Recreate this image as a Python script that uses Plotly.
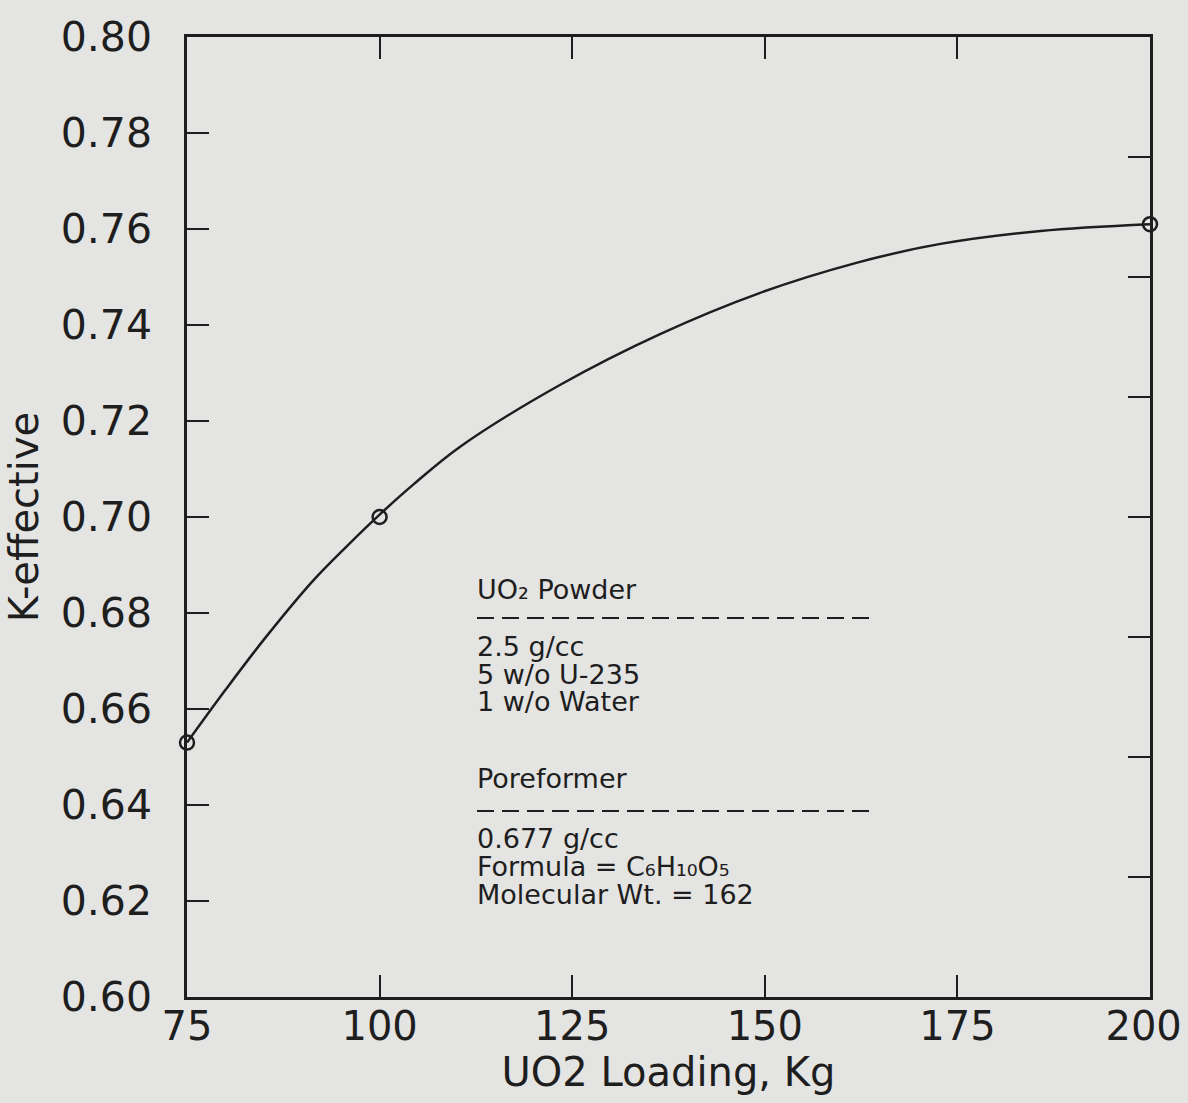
import plotly.graph_objects as go

# ---- data ----
loading_pts = [75, 100, 200]
keff_pts = [0.653, 0.700, 0.761]

curve_x = [75, 80.0, 85.0, 91.4, 95.8, 100, 104.4, 110.5, 123.4, 136.4, 149.4, 162.0, 172.8, 185.8, 200]
curve_y = [0.653, 0.6640, 0.6745, 0.6868, 0.6940, 0.7005, 0.7068, 0.7147, 0.7275, 0.7381, 0.7467,
           0.7530, 0.7569, 0.7596, 0.761]

x_ticks = [75, 100, 125, 150, 175, 200]
x_tick_text = ["75", "100", "125", "150", "175", "200\u00a0"]
y_ticks = [0.60, 0.62, 0.64, 0.66, 0.68, 0.70, 0.72, 0.74, 0.76, 0.78, 0.80]
y_tick_text = ["%.2f" % v for v in y_ticks]
right_ticks = [0.625, 0.650, 0.675, 0.700, 0.725, 0.750, 0.775]

notes_1 = ["2.5 g/cc", "5 w/o U-235", "1 w/o Water"]
notes_2 = ["0.677 g/cc", "Formula = C₆H₁₀O₅", "Molecular Wt. = 162"]

INK = "#1e1e1e"
BG = "#e4e4e2"
FONT = "DejaVu Sans"

fig = go.Figure()
fig.add_trace(go.Scatter(x=curve_x, y=curve_y, mode="lines",
                         line=dict(color=INK, width=2.5, shape="spline", smoothing=1.0),
                         hoverinfo="skip", showlegend=False))
fig.add_trace(go.Scatter(x=loading_pts, y=keff_pts, mode="markers",
                         marker=dict(symbol="circle-open", size=14, color=INK, line=dict(width=2.5)),
                         cliponaxis=False, showlegend=False))
# helper trace for the right-hand axis
fig.add_trace(go.Scatter(x=loading_pts, y=keff_pts, mode="markers", yaxis="y2",
                         marker=dict(opacity=0), hoverinfo="skip", showlegend=False))

W, H = 1188, 1103
# target plot box in page pixels
PL, PR, PT, PB = 187, 1150, 37, 997
L, T = PL, PT
R = W - PR
B = H - PB
pw, ph = W - L - R, H - T - B

def px(x):
    return (x - PL) / pw

def py(y):
    return (PB - y) / ph

ann = []
def note(text, x, y):
    ann.append(dict(text=text, x=px(x), y=py(y), xref="paper", yref="paper",
                    xanchor="left", yanchor="middle", showarrow=False,
                    font=dict(family=FONT, size=27, color=INK)))

note("UO₂ Powder", 475, 589)
for i, t in enumerate(notes_1):
    note(t, 475, 646 + 28 * i)
note("Poreformer", 475, 778)
for i, t in enumerate(notes_2):
    note(t, 475, 838 + 28 * i)

shapes = [
    dict(type="line", xref="paper", yref="paper", x0=px(477), x1=px(875), y0=py(618), y1=py(618),
         line=dict(color=INK, width=2, dash="17px,8px")),
    dict(type="line", xref="paper", yref="paper", x0=px(477), x1=px(875), y0=py(811), y1=py(811),
         line=dict(color=INK, width=2, dash="17px,8px")),
]

fig.update_layout(
    width=W, height=H,
    margin=dict(l=L, r=R, t=T, b=B, autoexpand=False),
    paper_bgcolor=BG, plot_bgcolor=BG,
    font=dict(family=FONT, color=INK),
    annotations=ann, shapes=shapes,
    xaxis=dict(range=[75, 200], tickvals=x_ticks, ticktext=x_tick_text,
               automargin=False,
               ticks="inside", ticklen=22, tickwidth=2, tickcolor=INK,
               showline=True, linecolor=INK, linewidth=2.5, mirror="ticks",
               showgrid=False, zeroline=False,
               ticklabelstandoff=-8, ticklabeloverflow="allow",
               tickfont=dict(size=40, family=FONT, color=INK),
               title=dict(text="UO2 Loading, Kg", font=dict(size=40, family=FONT, color=INK), standoff=8)),
    yaxis=dict(range=[0.60, 0.80], tickvals=y_ticks, ticktext=y_tick_text,
               automargin=False,
               ticks="inside", ticklen=22, tickwidth=2, tickcolor=INK,
               showline=True, linecolor=INK, linewidth=2.5, mirror=True,
               showgrid=False, zeroline=False,
               ticklabelstandoff=24,
               tickfont=dict(size=41, family=FONT, color=INK),
               title=dict(text="K-effective", font=dict(size=40, family=FONT, color=INK), standoff=10)),
    yaxis2=dict(range=[0.60, 0.80], overlaying="y", side="right", tickvals=right_ticks,
                automargin=False,
                showticklabels=False, ticks="inside", ticklen=22, tickwidth=2, tickcolor=INK,
                showline=False, showgrid=False, zeroline=False),
)

fig.write_html("out.html",
               config={"displayModeBar": False},
               post_script=("document.body.style.margin='0';"
                            "document.body.style.overflow='hidden';"
                            "document.body.style.background='%s';"
                            "document.documentElement.style.background='%s';") % (BG, BG))
